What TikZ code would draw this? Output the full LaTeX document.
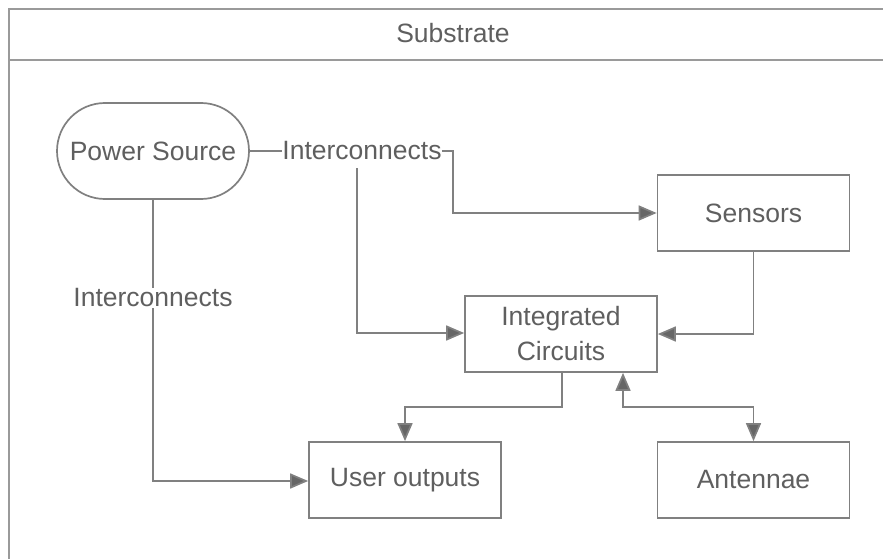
\documentclass[tikz,border=0pt]{standalone}
\usepackage{fontspec}
\setmainfont{Liberation Sans}
\usetikzlibrary{arrows.meta}
\definecolor{framegray}{HTML}{9A9A9A}
\definecolor{linegray}{HTML}{808080}
\definecolor{headgray}{HTML}{666666}
\definecolor{textgray}{HTML}{5F5F5F}
\tikzset{
  box/.style={draw=linegray, line width=1.7pt, fill=white, inner sep=0pt,
    minimum width=192pt, minimum height=76pt, align=center,
    font=\fontsize{26.5}{35}\selectfont, text=textgray},
  lbl/.style={fill=white, inner sep=1pt, font=\fontsize{26.5}{32}\selectfont, text=textgray},
  wire/.style={draw=linegray, line width=1.7pt},
  tip/.style={Triangle[length=18pt,width=15pt,fill=headgray]},
  arr/.style={wire, -{Triangle[length=18pt,width=15pt,fill=headgray]}},
  dbl/.style={wire, {Triangle[length=18pt,width=15pt,fill=headgray]}-{Triangle[length=18pt,width=15pt,fill=headgray]}}
}
\begin{document}
\begin{tikzpicture}[x=1pt,y=-1pt]
  \useasboundingbox (0,0) rectangle (883,559);
  \clip (0,0) rectangle (883,559);
  % substrate frame with title bar
  \draw[framegray, line width=1.8pt] (9,9) rectangle (898,575);
  \draw[framegray, line width=1.8pt] (9,60) -- (898,60);
  \node[lbl, fill=none] (title) at (453,33) {Substrate};

  % components
  \node[box, minimum width=192pt, minimum height=96pt, rounded corners=48pt] (ps) at (153,151) {Power Source};
  \node[box] (sens) at (753.5,213) {Sensors};
  \node[box] (ic) at (561,334) {Integrated\\Circuits};
  \node[box] (uo) at (405,480) {User outputs};
  \node[box] (ant) at (753.5,480) {Antennae};

  % interconnect labels
  \node[lbl, inner sep=0pt] (ic1) at (362,151) {Interconnects};

  % power distribution
  \draw[wire] (ps.east) -- (ic1.west);
  \draw[arr] (ic1.east) -- (453,151) -- (453,213) -- (sens.west);
  \draw[arr] (357,168) -- (357,333) -- (ic.west |- 0,333);
  \draw[arr] (ps.south) -- (153,481) -- (uo.west |- 0,481);
  \node[lbl] (ic2) at (153,298) {Interconnects};

  % signal paths
  \draw[arr] (sens.south) -- (753.5,334) -- (ic.east |- 0,334);
  \draw[arr] (ic.south -| 562,0) -- (562,407) -- (405,407) -- (uo.north -| 405,0);
  \draw[dbl] (ic.south -| 623,0) -- (623,407) -- (753.5,407) -- (ant.north);
\end{tikzpicture}
\end{document}
